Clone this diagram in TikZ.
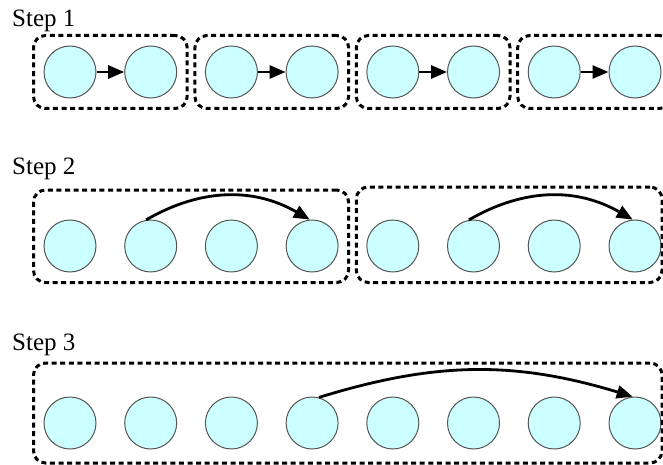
\documentclass[tikz,border=0pt]{standalone}
\usepackage{fontspec}
\setmainfont{Liberation Serif}
\usetikzlibrary{arrows.meta,fit,calc}
\definecolor{beadfill}{HTML}{CCFFFF}
\definecolor{beadline}{HTML}{555555}
\tikzset{
  bead/.style={circle, draw=beadline, line width=1pt, fill=beadfill, minimum size=52pt, inner sep=0pt},
  grp/.style={draw, line width=3pt, dash pattern=on 5pt off 3.6pt, rounded corners=12pt, inner sep=10pt},
  flow/.style={line width=2.8pt, -{Triangle[length=16pt,width=13pt]}},
  steplabel/.style={anchor=base west, inner sep=0pt, font=\fontsize{25}{30}\selectfont},
}
\begin{document}
\begin{tikzpicture}[x=1pt,y=-1pt]
\clip (0,0) rectangle (663,465);
\useasboundingbox (0,0) rectangle (663,465);

% labels
\node[steplabel] (s1) at (12,27) {Step 1};
\node[steplabel] (s2) at (12,175) {Step 2};
\node[steplabel] (s3) at (12,350) {Step 3};

% beads
\foreach \i/\x in {1/70,2/150.7,3/231.4,4/312.1,5/392.8,6/473.5,7/554.2,8/635}{
  \node[bead] (a\i) at (\x,72) {};
  \node[bead] (b\i) at (\x,246) {};
  \node[bead] (c\i) at (\x,423) {};
}

% helper coordinates
\coordinate (t2l) at (70,200);
\coordinate (t2r) at (400,197);
\coordinate (r2r) at (652,246);
\coordinate (t3) at (70,373);
\coordinate (b3) at (70,453);
\coordinate (r3) at (652,423);

% step 1 groups
\node[grp, fit=(a1)(a2)] (g11) {};
\node[grp, fit=(a3)(a4)] (g12) {};
\node[grp, fit=(a5)(a6)] (g13) {};
\node[grp, fit=(a7)(a8)] (g14) {};
\draw[flow] (a1) -- (a2);
\draw[flow] (a3) -- (a4);
\draw[flow] (a5) -- (a6);
\draw[flow] (a7) -- (a8);

% step 2 groups
\node[grp, fit=(b1)(b4)(t2l)] (g21) {};
\node[grp, fit=(b5.west)(b5.south)(t2r)(r2r)] (g22) {};
\draw[flow] (b2.100) to[bend left=30] (b4.95);
\draw[flow] (b6.100) to[bend left=30] (b8.95);

% step 3 group
\node[grp, fit=(c1)(t3)(b3)(r3)] (g31) {};
\draw[flow] (c4.75) to[bend left=17] (c8.95);
\end{tikzpicture}
\end{document}
